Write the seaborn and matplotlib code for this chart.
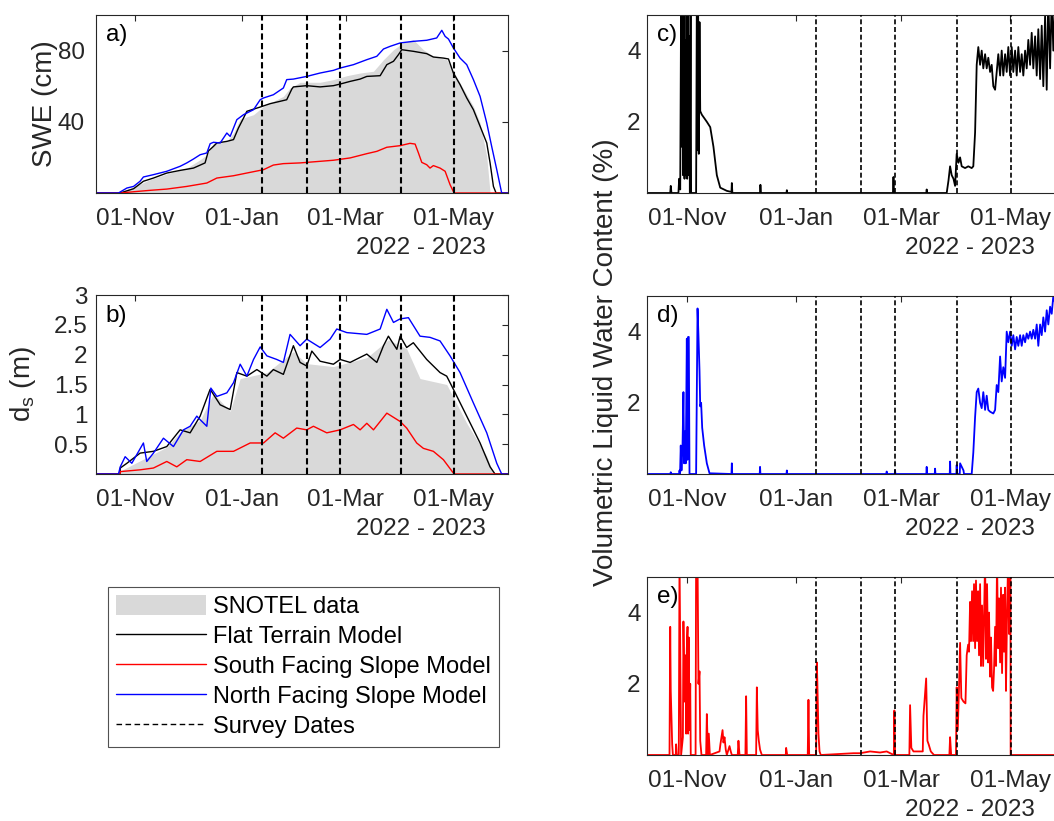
"""
Snow model comparison figure: SWE, snow depth and liquid water content
for flat / south / north facing terrain, 2022 - 2023 season.
"""
import numpy as np
import pandas as pd
import matplotlib
matplotlib.use('Agg')
import matplotlib.pyplot as plt
import matplotlib.dates as mdates
from matplotlib.lines import Line2D
from matplotlib.patches import Patch
import seaborn as sns

# all x values are days after 01-Nov-2022
ORIGIN = pd.Timestamp('2022-11-01')
X_RANGE = (-22.3, 212.3)

survey_days = [72.4, 97.7, 116.7, 151.5, 181.5]

# --- a) SWE (cm) ---
swe_snotel_day = [-10.4, -0.9, 8.5, 18.0, 29.4, 37.0, 40.8, 44.6, 52.2, 56.0, 59.8, 67.4, 73.1, 78.7,
                  84.4, 88.2, 93.9, 105.3, 112.9, 120.5, 128.1, 135.7, 141.4, 147.1, 152.8, 158.4,
                  164.1, 169.8, 177.4, 181.2, 185.0, 188.8, 192.6, 196.4, 200.2, 202.1]
swe_snotel = [0, 3.4, 7.5, 10.7, 14.0, 18.7, 21.5, 28.1, 29.0, 33.7, 41.6, 44.0, 48.7, 51.5,
              54.3, 59.0, 62.2, 62.2, 63.7, 65.9, 67.4, 68.4, 74.9, 80.5, 84.6, 86.1,
              80.5, 76.8, 74.9, 68.4, 61.8, 55.2, 48.7, 39.3, 20.6, 0]

swe_flat_day = [-22.3, -8.5, -0.9, 4.7, 10.4, 18.0, 25.6, 33.2, 39.8, 41.7, 44.6, 46.5, 52.2, 56.0,
                58.8, 61.7, 63.6, 71.2, 76.9, 82.5, 86.3, 89.2, 90.1, 97.7, 105.3, 112.9, 116.7,
                122.4, 128.1, 131.9, 139.5, 143.3, 147.1, 149.9, 151.8, 158.4, 166.0, 169.8, 175.5,
                178.4, 181.2, 185.0, 188.8, 192.6, 196.4, 200.2, 202.1, 204.0, 205.5, 212.3]
swe_flat = [0, 0, 2.4, 6.6, 8.4, 11.2, 12.7, 14.0, 16.9, 23.6, 26.2, 28.1, 29.0, 30.0,
            36.5, 42.1, 45.9, 48.3, 50.2, 51.5, 52.4, 58.4, 59.6, 60.3, 59.6, 60.3, 61.2,
            62.7, 64.0, 65.5, 65.9, 72.1, 74.0, 77.7, 80.5, 79.6, 78.3, 76.4, 75.8,
            75.3, 67.4, 60.9, 53.4, 46.8, 37.5, 28.1, 16.9, 3.7, 0, 0]

swe_south_day = [-22.3, -8.5, -0.9, 8.5, 18.0, 29.4, 40.8, 46.5, 56.0, 65.5, 73.1, 78.7, 84.4, 93.9,
                 105.3, 112.9, 122.4, 131.9, 137.6, 143.3, 150.9, 156.5, 159.4, 161.3, 163.2, 166.0,
                 167.9, 169.8, 173.6, 176.5, 179.3, 181.6, 212.3]
swe_south = [0, 0, 0.7, 1.5, 2.2, 3.7, 5.6, 8.4, 9.7, 11.6, 13.1, 15.7, 16.5, 16.9,
             17.8, 18.4, 19.7, 22.1, 23.4, 25.7, 26.6, 27.9, 27.5, 22.5, 17.2, 15.9,
             14.0, 15.4, 14.0, 12.2, 4.7, 0, 0]

swe_north_day = [-22.3, -9.5, -4.7, -0.9, 2.8, 4.7, 10.4, 18.0, 25.6, 29.4, 33.2, 37.0, 40.8, 42.7,
                 44.6, 48.4, 50.3, 52.2, 54.1, 56.0, 57.9, 61.7, 67.4, 71.2, 73.1, 78.7, 84.4, 86.3,
                 90.1, 97.7, 105.3, 112.9, 116.7, 124.3, 131.9, 137.6, 141.4, 145.2, 150.9, 158.4,
                 166.0, 171.7, 174.6, 176.5, 178.4, 181.2, 185.0, 188.8, 192.6, 196.4, 200.2, 203.0,
                 205.9, 208.7, 212.3]
swe_north = [0, 0, 2.8, 3.7, 6.6, 9.0, 10.3, 12.2, 15.0, 16.9, 19.1, 21.5, 22.5, 27.7,
             28.5, 28.1, 30.9, 33.7, 31.8, 36.5, 41.2, 44.0, 46.8, 52.4, 53.4, 55.2, 59.0, 63.7,
             64.0, 65.5, 67.4, 68.9, 70.2, 72.1, 74.9, 76.8, 80.9, 82.4, 84.3, 85.2,
             85.8, 87.1, 91.4, 88.0, 86.5, 81.5, 75.8, 72.1, 63.7, 54.3, 39.3, 26.2,
             13.1, 0, 0]

# --- b) snow depth (m) ---
ds_snotel_day = [-9.5, -8.5, 18.0, 25.6, 37.0, 44.6, 54.1, 59.8, 75.0, 90.1, 97.7, 112.9, 131.9,
                 144.2, 154.6, 162.2, 177.4, 188.8, 200.2, 204.0]
ds_snotel = [0, 0.05, 0.45, 0.70, 0.90, 1.35, 1.05, 1.60, 1.70, 2.05, 1.85, 1.80, 1.95,
             2.25, 2.10, 1.60, 1.50, 0.85, 0.30, 0]

ds_flat_day = [-22.3, -8.6, -8.5, -4.7, 2.8, 10.4, 18.0, 25.6, 31.3, 37.0, 42.7, 48.4, 54.1, 57.9,
               63.6, 69.3, 75.0, 78.7, 84.4, 90.1, 93.9, 97.7, 100.6, 105.3, 112.9, 116.7, 122.4,
               131.9, 137.6, 141.4, 144.2, 149.0, 150.9, 154.6, 158.4, 166.0, 173.6, 177.4, 181.2,
               188.8, 196.4, 202.1, 204.9, 212.3]
ds_flat = [0, 0, 0.10, 0.18, 0.35, 0.38, 0.46, 0.74, 0.69, 0.97, 1.42, 1.16, 1.08, 1.70,
           1.64, 1.75, 1.64, 1.75, 1.67, 2.15, 1.87, 1.81, 2.06, 1.89, 1.84, 1.92, 1.87,
           2.01, 1.87, 2.15, 2.31, 2.09, 2.31, 2.12, 2.20, 1.92, 1.70, 1.64, 1.42,
           0.97, 0.52, 0.12, 0, 0]

ds_south_day = [-22.3, -8.6, -8.5, 2.8, 10.4, 18.0, 23.7, 29.4, 37.0, 46.5, 56.0, 65.5, 73.1, 79.7,
                84.4, 92.0, 97.7, 101.5, 109.1, 116.7, 124.3, 128.1, 131.9, 135.7, 143.3, 150.9,
                154.6, 160.3, 164.1, 169.8, 175.5, 181.6, 212.3]
ds_south = [0, 0, 0.04, 0.07, 0.10, 0.21, 0.12, 0.24, 0.21, 0.38, 0.38, 0.52, 0.52, 0.69,
            0.60, 0.77, 0.74, 0.80, 0.69, 0.74, 0.83, 0.74, 0.85, 0.74, 1.02, 0.88,
            0.77, 0.52, 0.43, 0.38, 0.24, 0, 0]

ds_north_day = [-22.3, -9.5, -8.5, -5.7, -1.9, 4.7, 6.6, 10.4, 16.1, 21.8, 27.5, 31.3, 35.1, 37.0,
                40.8, 43.1, 46.5, 52.2, 56.0, 59.8, 63.6, 67.4, 71.2, 75.0, 80.6, 84.4, 88.2,
                93.9, 97.7, 105.3, 111.0, 114.8, 120.5, 131.9, 139.5, 143.3, 147.1, 150.9, 155.6,
                162.2, 167.9, 173.6, 179.3, 185.0, 192.6, 200.2, 205.9, 208.7, 212.3]
ds_north = [0, 0, 0.12, 0.29, 0.18, 0.52, 0.21, 0.35, 0.60, 0.46, 0.74, 0.80, 0.97, 0.91,
            0.80, 1.44, 1.30, 1.36, 1.53, 1.84, 1.64, 1.92, 2.13, 1.98, 1.92, 1.87, 2.34,
            2.15, 2.26, 2.12, 2.26, 2.43, 2.37, 2.34, 2.43, 2.76, 2.54, 2.60, 2.62,
            2.31, 2.29, 2.23, 1.98, 1.70, 1.19, 0.69, 0.18, 0, 0]

# --- c-e) volumetric liquid water content (%), (day, value) ---
lwc_flat = [
    (-22.3, 0), (-9.3, 0), (-9.0, 0.2), (-8.6, 0), (-4.7, 0), (-4.3, 0.4), (-3.7, 0.1),
    (-3.2, 5.5), (-2.8, 1.3), (-2.4, 5.5), (-2.1, 0.5), (-1.7, 5.5), (-1.3, 0.4), (-0.9, 4.3),
    (-0.6, 0.5), (-0.2, 5.5), (0.2, 0.4), (0.6, 5.5), (0.9, 0.5), (1.3, 4.4), (1.7, 0.0),
    (2.1, 5.5), (2.4, 0), (5.2, 0), (5.6, 5.5), (6.0, 1.2), (6.3, 5.5), (6.7, 1.1), (7.1, 4.8),
    (7.5, 2.3), (8.4, 2.2), (11.2, 2.0), (13.1, 1.85), (14.9, 1.3), (16.8, 0.5), (18.7, 0.15),
    (22.4, 0.06), (25.0, 0.03), (25.2, 0.28), (25.5, 0), (41.0, 0), (41.2, 0.23), (41.5, 0),
    (55.8, 0), (56.0, 0.08), (56.2, 0), (115.4, 0), (115.7, 0.45), (116.0, 0),
    (134.1, 0), (134.3, 0.1), (134.5, 0), (145.5, 0), (146.5, 0.35), (147.4, 0.75),
    (148.3, 0.5), (149.3, 0.4), (150.2, 0.2), (151.1, 1.1), (152.1, 0.85), (153.0, 1.0),
    (153.9, 0.75), (155.8, 0.7), (157.6, 0.75), (159.5, 0.7), (160.4, 0.75), (161.4, 1.7),
    (162.3, 3.6), (163.2, 4.1), (164.2, 3.6), (165.1, 4.0), (166.0, 3.5), (167.0, 3.9),
    (167.9, 3.5), (168.8, 3.8), (169.8, 3.4), (170.7, 3.6), (171.6, 3.0), (172.6, 2.9),
    (173.5, 3.4), (174.4, 3.9), (175.4, 3.3), (176.3, 4.0), (177.2, 3.3), (178.2, 3.9),
    (179.1, 3.4), (180.0, 4.1), (181.0, 3.3), (181.9, 4.1), (182.8, 3.4), (183.8, 4.0),
    (184.7, 3.3), (185.6, 4.1), (186.6, 3.4), (187.5, 3.9), (188.4, 3.3), (189.4, 4.0),
    (190.3, 3.5), (191.2, 4.3), (192.2, 3.6), (193.1, 4.5), (194.0, 3.5), (195.0, 4.4),
    (195.9, 3.3), (196.8, 4.6), (197.8, 3.2), (198.7, 4.7), (199.6, 3.0), (200.6, 5.0),
    (201.5, 2.9), (202.4, 5.5), (203.4, 3.5), (204.3, 5.5), (205.2, 4.0), (206.2, 5.5),
    (207.5, 4.2), (208.8, 5.5), (210.0, 4.5), (211.3, 5.5), (212.3, 4.8),
]

lwc_north = [
    (-22.3, 0), (-9.2, 0), (-9.0, 0.05), (-8.8, 0), (-4.3, 0), (-4.1, 0.1), (-3.8, 0),
    (-3.4, 0.8), (-3.0, 0.1), (-2.4, 0.8), (-1.9, 2.3), (-1.5, 0.3), (-0.9, 1.2), (-0.6, 0.3),
    (0.0, 3.8), (0.4, 0.4), (0.7, 3.85), (1.1, 3.85), (1.5, 0), (5.2, 0), (6.0, 4.65),
    (6.5, 3.9), (7.1, 2.9), (7.5, 1.9), (8.0, 2.0), (8.6, 1.3), (9.7, 0.8), (11.2, 0.3),
    (12.7, 0.02), (25.0, 0), (25.2, 0.3), (25.4, 0), (40.8, 0), (41.0, 0.2), (41.2, 0),
    (55.8, 0), (56.0, 0.1), (56.2, 0), (111.7, 0), (111.9, 0.07), (112.1, 0), (116.4, 0),
    (116.6, 0.1), (116.8, 0), (134.1, 0), (134.3, 0.2), (134.5, 0), (138.8, 0), (139.0, 0.15),
    (139.2, 0), (147.2, 0), (147.4, 0.35), (147.6, 0), (150.9, 0), (151.1, 0.25), (151.3, 0),
    (152.8, 0), (153.0, 0.3), (154.9, 0.1), (155.2, 0), (159.5, 0), (160.4, 0.6), (161.4, 1.6),
    (162.3, 2.3), (163.2, 2.4), (164.2, 2.0), (165.1, 1.85), (166.0, 2.3), (167.0, 1.8),
    (167.9, 2.2), (168.8, 1.8), (169.8, 1.75), (171.6, 1.7), (172.6, 1.8), (173.5, 2.5),
    (174.4, 2.3), (175.4, 3.3), (176.3, 2.6), (177.2, 3.0), (178.2, 2.7), (179.1, 4.0),
    (180.0, 3.7), (181.0, 4.0), (181.9, 3.6), (182.8, 3.9), (183.8, 3.5), (184.7, 3.85),
    (185.6, 3.6), (186.6, 3.9), (187.5, 3.6), (188.4, 3.9), (189.4, 3.7), (190.3, 3.95),
    (191.2, 3.8), (192.2, 4.0), (193.1, 3.8), (194.0, 4.05), (195.0, 3.8), (195.9, 4.2),
    (196.8, 3.6), (197.8, 4.2), (198.7, 3.9), (199.6, 4.4), (200.6, 4.0), (201.5, 4.6),
    (202.4, 4.2), (203.4, 4.7), (204.3, 4.5), (205.2, 5.0), (206.2, 4.8), (208.0, 5.3),
    (210.0, 5.1), (212.3, 5.4),
]

lwc_south = [
    (-22.3, 0), (-9.7, 0), (-9.3, 3.6), (-9.0, 1.8), (-8.2, 0.3), (-7.8, 0), (-6.2, 0),
    (-6.0, 0.3), (-5.6, 0), (-4.5, 0), (-4.1, 5.5), (-3.7, 3.0), (-3.2, 0), (-2.2, 0.5),
    (-1.9, 3.75), (-1.3, 1.5), (-0.7, 2.8), (-0.4, 0.6), (0.0, 3.0), (0.4, 3.6), (0.7, 0.6),
    (1.1, 3.3), (1.5, 0.7), (1.9, 2.0), (2.2, 0), (4.9, 0), (5.2, 5.5), (6.0, 5.5), (6.5, 2.0),
    (7.1, 2.35), (7.5, 0.4), (8.2, 0), (10.8, 0), (11.2, 1.15), (11.8, 0), (12.3, 0.6),
    (12.9, 0), (18.3, 0.1), (18.8, 0.3), (19.4, 0.5), (20.0, 0.7), (20.5, 0.35), (21.1, 0.5),
    (21.8, 0.15), (22.4, 0), (23.9, 0.25), (24.6, 0.1), (25.2, 0), (28.5, 0), (28.9, 0.4),
    (29.5, 0), (32.8, 0), (33.2, 1.65), (33.6, 0), (38.8, 0), (39.2, 1.9), (39.7, 0.7),
    (40.3, 0.4), (41.0, 0.15), (42.0, 0), (55.4, 0), (55.6, 0.2), (56.2, 0), (67.7, 0),
    (68.1, 1.55), (68.5, 0), (72.4, 0), (72.8, 2.6), (73.1, 2.0), (73.7, 0.6), (74.3, 0.1),
    (75.0, 0), (93.3, 0.05), (97.0, 0.05), (102.6, 0.1), (108.2, 0.07), (111.9, 0.1),
    (115.9, 0), (116.2, 1.25), (116.6, 0), (124.6, 0), (125.0, 1.4), (125.7, 0.2),
    (126.9, 0.1), (128.7, 0.1), (132.1, 0.1), (132.5, 1.1), (133.2, 1.6), (134.0, 2.15),
    (134.7, 0.4), (135.4, 0.3), (136.6, 0.1), (138.4, 0), (147.0, 0), (147.4, 0.5), (148.0, 0),
    (150.7, 0), (151.1, 1.9), (151.7, 0.7), (152.4, 1.9), (153.0, 3.15), (153.7, 1.6),
    (154.9, 1.5), (156.0, 1.45), (156.7, 2.8), (157.5, 3.1), (158.0, 2.9), (158.6, 4.3),
    (159.1, 3.2), (159.7, 4.6), (160.3, 3.2), (160.8, 4.8), (161.4, 3.0), (161.9, 4.9),
    (162.5, 3.2), (163.1, 4.6), (163.6, 2.8), (164.2, 4.8), (164.7, 2.5), (165.3, 4.2),
    (165.9, 2.5), (166.4, 3.8), (167.0, 5.5), (167.5, 2.7), (168.1, 4.8), (168.7, 2.6),
    (169.2, 4.0), (169.8, 2.2), (170.3, 3.3), (170.9, 1.9), (171.5, 1.8), (172.0, 2.4),
    (172.6, 3.6), (173.1, 2.5), (173.7, 5.5), (174.3, 3.0), (174.8, 4.4), (175.4, 2.6),
    (175.9, 4.7), (176.5, 2.3), (177.1, 4.5), (177.6, 2.9), (178.2, 4.7), (178.7, 1.8),
    (179.3, 4.0), (179.9, 5.5), (180.4, 3.4), (180.8, 5.5), (181.2, 5.5), (181.3, 0),
    (212.3, 0),
]

GRAY = '#d9d9d9'
INK = '#262626'
FS = 17.5


def to_dates(days):
    return ORIGIN + pd.to_timedelta(np.asarray(days, dtype=float), unit='D')


def draw_line(ax, days, vals, color, lw=1.0):
    df = pd.DataFrame({'date': to_dates(days), 'value': vals})
    sns.lineplot(data=df, x='date', y='value', color=color, lw=lw,
                 estimator=None, sort=False, legend=False, ax=ax)


def draw_pairs(ax, pts, color):
    days, vals = zip(*pts)
    draw_line(ax, list(days), list(vals), color, lw=1.3)


def survey_lines(ax, lw):
    for d in survey_days:
        ax.axvline(to_dates([d])[0], color='k', lw=lw, ls=(0, (3, 1.6)), zorder=5)


def style_axes(ax, ylim, yticks, tag, ypad, year_x):
    ax.set_xlim(to_dates([X_RANGE[0]])[0], to_dates([X_RANGE[1]])[0])
    ax.set_ylim(*ylim)
    ax.set_yticks(yticks)
    ax.set_yticklabels([f'{t:g}' for t in yticks])
    ax.xaxis.set_major_locator(mdates.MonthLocator(bymonth=[11, 1, 3, 5], bymonthday=1))
    ax.xaxis.set_major_formatter(mdates.DateFormatter('%d-%b'))
    ax.tick_params(direction='in', top=True, right=True, length=4, width=0.8,
                   labelsize=FS, colors=INK)
    ax.tick_params(axis='x', pad=10.5)
    ax.tick_params(axis='y', pad=ypad)
    ax.set_xlabel('')
    ax.set_ylabel('')
    for sp in ax.spines.values():
        sp.set_color(INK)
        sp.set_linewidth(0.8)
    ax.text(0.024, 0.885, tag, transform=ax.transAxes, fontsize=FS, va='center', color='k')
    ax.text(year_x, -0.31, '2022 - 2023', transform=ax.transAxes, fontsize=FS,
            ha='right', va='center', color=INK)


sns.set_style('white')
plt.rcParams['font.family'] = ['Liberation Sans', 'DejaVu Sans']
plt.rcParams['mathtext.fontset'] = 'custom'
plt.rcParams['mathtext.rm'] = 'Liberation Sans'
plt.rcParams['mathtext.it'] = 'Liberation Sans'

fig = plt.figure(figsize=(10.54, 8.21), dpi=100)
W, H = 1054, 821


def add_axes(left, top, right, bottom):
    return fig.add_axes([left / W, 1 - bottom / H, (right - left) / W, (bottom - top) / H])


ax_a = add_axes(96, 15, 508, 193)
ax_b = add_axes(96, 295, 508, 474)
ax_c = add_axes(647, 15, 1066, 193)
ax_d = add_axes(647, 296, 1066, 474)
ax_e = add_axes(647, 577, 1066, 755)

# a) SWE
ax_a.fill_between(to_dates(swe_snotel_day), 0, swe_snotel, color=GRAY, lw=0)
draw_line(ax_a, swe_flat_day, swe_flat, 'k')
draw_line(ax_a, swe_south_day, swe_south, 'r')
draw_line(ax_a, swe_north_day, swe_north, 'b')
survey_lines(ax_a, 1.5)
style_axes(ax_a, (0, 100), [40, 80], 'a)', 8, 0.947)
ax_a.set_ylabel('SWE (cm)', fontsize=20, color=INK)
ax_a.yaxis.set_label_coords(-0.092, 0.5)

# b) snow depth
ax_b.fill_between(to_dates(ds_snotel_day), 0, ds_snotel, color=GRAY, lw=0)
draw_line(ax_b, ds_flat_day, ds_flat, 'k')
draw_line(ax_b, ds_south_day, ds_south, 'r')
draw_line(ax_b, ds_north_day, ds_north, 'b')
survey_lines(ax_b, 1.5)
style_axes(ax_b, (0, 3), [0.5, 1, 1.5, 2, 2.5, 3], 'b)', 6, 0.947)
ax_b.set_ylabel(r'd$_\mathrm{s}$ (m)', fontsize=20, color=INK)
ax_b.yaxis.set_label_coords(-0.14, 0.5)

# c-e) liquid water content
for ax, pts, col, tag in [(ax_c, lwc_flat, 'k', 'c)'),
                          (ax_d, lwc_north, 'b', 'd)'),
                          (ax_e, lwc_south, 'r', 'e)')]:
    draw_pairs(ax, pts, col)
    survey_lines(ax, 1.2)
    style_axes(ax, (0, 5), [2, 4], tag, 4.5, 0.926)

fig.text(606 / W, 1 - 362 / H, 'Volumetric Liquid Water Content (%)', rotation=90,
         ha='center', va='center', fontsize=20, color=INK)

handles = [
    Patch(facecolor=GRAY, edgecolor='none'),
    Line2D([], [], color='k', lw=1.0),
    Line2D([], [], color='r', lw=1.0),
    Line2D([], [], color='b', lw=1.0),
    Line2D([], [], color='k', lw=1.0, ls=(0, (4, 2.5))),
]
labels = ['SNOTEL data', 'Flat Terrain Model', 'South Facing Slope Model',
          'North Facing Slope Model', 'Survey Dates']
leg = fig.legend(handles, labels, loc='upper left', bbox_to_anchor=(108 / W, 1 - 587 / H),
                 fontsize=17, frameon=True, fancybox=False, edgecolor=INK,
                 handlelength=3.8, handleheight=0.9, handletextpad=0.3,
                 labelspacing=0.3, borderpad=0.35, borderaxespad=0)
leg.get_frame().set_linewidth(0.8)
for t in leg.get_texts():
    t.set_color('k')

fig.savefig('out.png', dpi=100)
